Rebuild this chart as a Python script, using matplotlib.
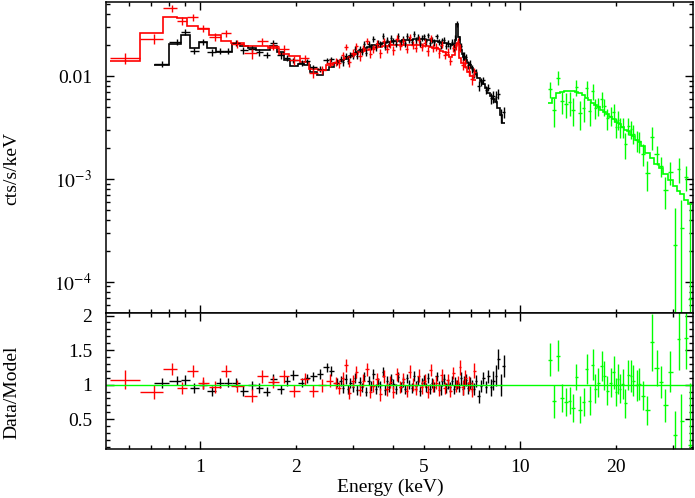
import numpy as np
import matplotlib.pyplot as plt
from matplotlib.ticker import LogLocator, MultipleLocator, FuncFormatter, NullFormatter, FixedLocator

plt.rcParams['font.family'] = ['Liberation Serif', 'DejaVu Serif']
plt.rcParams['mathtext.fontset'] = 'stix'

# ---- black spectrum (bin centres keV, model cts/s/keV, data/model, ratio error)
black_e = [0.759, 0.846, 0.898, 0.960, 1.022, 1.088, 1.155, 1.226, 1.296, 1.365,
           1.450, 1.532, 1.616, 1.694, 1.791, 1.869, 1.956, 2.077, 2.155, 2.259,
           2.371, 2.488, 2.560, 2.670,
           2.75, 2.80, 2.85, 2.90, 2.95, 3.00, 3.05, 3.10, 3.15, 3.20,
           3.25, 3.30, 3.36, 3.42, 3.48, 3.54, 3.60, 3.66, 3.72, 3.78,
           3.84, 3.90, 3.96, 4.02, 4.09, 4.16, 4.23, 4.30, 4.37, 4.44,
           4.51, 4.58, 4.65, 4.72, 4.79, 4.86, 4.93, 5.00, 5.08, 5.16,
           5.24, 5.32, 5.40, 5.48, 5.56, 5.64, 5.72, 5.80, 5.88, 5.96,
           6.04, 6.12, 6.20, 6.28, 6.36, 6.44, 6.52, 6.61, 6.70, 6.79,
           6.88, 6.98, 7.08, 7.19, 7.30, 7.42, 7.55, 7.68, 7.82, 7.96,
           8.10, 8.25, 8.40, 8.55, 8.72, 8.90]
black_model = [0.0128, 0.0205, 0.0254, 0.0186, 0.0216, 0.0187, 0.0172, 0.0171, 0.0205, 0.0196,
               0.0187, 0.0179, 0.0179, 0.0196, 0.0171, 0.0143, 0.0125, 0.0131, 0.0128, 0.0109,
               0.0102, 0.0114, 0.0122, 0.0134,
               0.0140, 0.0143, 0.0147, 0.0152, 0.0158, 0.0163, 0.0168, 0.0172, 0.0176, 0.0180,
               0.0184, 0.0188, 0.0193, 0.0197, 0.0200, 0.0203, 0.0205, 0.0207, 0.0209, 0.0211,
               0.0213, 0.0215, 0.0217, 0.0218, 0.0219, 0.0221, 0.0222, 0.0223, 0.0224, 0.0225,
               0.0226, 0.0227, 0.0228, 0.0228, 0.0229, 0.0229, 0.0229, 0.0228, 0.0227, 0.0226,
               0.0224, 0.0222, 0.0220, 0.0218, 0.0216, 0.0214, 0.0212, 0.0210, 0.0208, 0.0206,
               0.0204, 0.0202, 0.0205, 0.0225, 0.0320, 0.0240, 0.0180, 0.0166, 0.0152, 0.0143,
               0.0135, 0.0128, 0.0120, 0.0112, 0.0104, 0.0097, 0.0090, 0.0083, 0.0076, 0.0069,
               0.0064, 0.0060, 0.0056, 0.0049, 0.0042, 0.0035]
black_ratio = [1.02, 1.06, 1.07, 0.95, 1.00, 0.91, 1.02, 1.03, 1.03, 0.91,
               0.99, 0.95, 0.90, 1.08, 0.93, 1.05, 1.14, 1.03, 1.09, 1.12,
               1.15, 1.25, 1.20, 1.03,
               1.05, 0.95, 1.08, 0.93, 1.02, 0.97, 1.10, 0.92, 1.04, 0.96,
               1.12, 0.90, 1.06, 0.98, 1.15, 0.94, 1.03, 0.99, 1.18, 0.92,
               1.05, 0.96, 1.08, 1.01, 0.94, 1.11, 0.97, 1.04, 0.93, 1.09,
               1.00, 0.95, 1.13, 0.98, 1.06, 0.91, 1.03, 1.07, 0.96, 1.10,
               0.94, 1.02, 0.97, 1.12, 0.99, 0.92, 1.05, 1.08, 0.95, 1.01,
               0.97, 1.06, 0.93, 1.04, 1.00, 0.96, 1.09, 0.94, 1.03, 1.07,
               0.95, 1.02, 0.98, 0.94, 1.05, 0.83, 0.98, 1.10, 0.97, 1.12,
               0.96, 1.06, 1.13, 1.37, 0.99, 1.27]
black_err = [0.07] * 24 + [0.07] * 56 + [0.09] * 14 + [0.12, 0.14, 0.15, 0.15, 0.16, 0.16]

# ---- red spectrum
red_e = [0.583, 0.720, 0.816, 0.877, 0.949, 1.024, 1.114, 1.206, 1.302, 1.450,
         1.566, 1.694, 1.834, 1.971, 2.128, 2.259, 2.400, 2.550,
         2.65, 2.72, 2.79, 2.86, 2.93, 3.00, 3.08, 3.16, 3.24, 3.32,
         3.40, 3.48, 3.57, 3.66, 3.75, 3.84, 3.93, 4.02, 4.12, 4.22,
         4.32, 4.42, 4.52, 4.62, 4.72, 4.82, 4.92, 5.03, 5.14, 5.25,
         5.36, 5.47, 5.58, 5.70, 5.82, 5.94, 6.06, 6.18, 6.30, 6.40,
         6.50, 6.62, 6.75, 6.90, 7.05, 7.20]
red_model = [0.0140, 0.0260, 0.0372, 0.0365, 0.0310, 0.0286, 0.0250, 0.0218, 0.0210, 0.0198,
             0.0195, 0.0188, 0.0165, 0.0158, 0.0138, 0.0118, 0.0116, 0.0127,
             0.0135, 0.0140, 0.0145, 0.0150, 0.0155, 0.0160, 0.0166, 0.0171, 0.0176, 0.0180,
             0.0184, 0.0188, 0.0191, 0.0194, 0.0196, 0.0198, 0.0199, 0.0200, 0.0201, 0.0202,
             0.0202, 0.0203, 0.0203, 0.0203, 0.0202, 0.0201, 0.0200, 0.0198, 0.0196, 0.0193,
             0.0190, 0.0186, 0.0182, 0.0177, 0.0170, 0.0162, 0.0155, 0.0160, 0.0200, 0.0210,
             0.0150, 0.0135, 0.0122, 0.0110, 0.0100, 0.0091]
red_ratio = [1.07, 0.89, 1.23, 0.95, 1.20, 1.02, 0.97, 1.20, 0.98, 0.84,
             1.12, 1.04, 1.12, 0.91, 1.08, 0.91, 0.99, 1.06,
             1.02, 0.95, 1.10, 1.28, 0.88, 1.05, 1.18, 0.92, 1.06, 1.22,
             0.90, 0.98, 1.08, 0.86, 1.12, 0.93, 1.04, 0.89, 1.15, 0.97,
             1.08, 0.91, 1.19, 1.00, 0.94, 1.13, 0.96, 1.06, 0.90, 1.21,
             0.99, 1.03, 0.92, 1.14, 0.95, 1.07, 0.91, 1.17, 0.98, 1.04,
             1.25, 0.96, 1.10, 1.02, 0.93, 1.20]
red_err = [0.14, 0.10] + [0.09] * 16 + [0.09] * 40 + [0.11] * 6

# ---- green spectrum (hard X-ray)
green_e = [12.41, 12.74, 13.12, 13.5, 13.9, 14.3, 14.6, 15.0, 15.4, 15.8,
           16.2, 16.5, 16.9, 17.2, 17.5, 18.0, 18.3, 18.7, 19.2, 19.6,
           19.9, 20.2, 20.5, 20.9, 21.3, 21.8, 22.2, 22.6, 23.2, 23.6,
           24.2, 25.0, 25.9, 26.7, 27.5, 28.4, 29.4, 30.5, 31.4, 31.9,
           33.0, 33.9]
green_model = [0.0055, 0.0062, 0.0068, 0.0070, 0.0072, 0.0072, 0.0071, 0.0070, 0.0068, 0.0065,
               0.0062, 0.0059, 0.0055, 0.0052, 0.0050, 0.0047, 0.0045, 0.0043, 0.0040, 0.0038,
               0.0036, 0.0035, 0.0034, 0.0032, 0.0030, 0.0029, 0.0027, 0.0026, 0.0024, 0.0023,
               0.0021, 0.0018, 0.0016, 0.0014, 0.00128, 0.00112, 0.00098, 0.00085, 0.00076, 0.00071,
               0.00063, 0.00057]
green_ratio = [1.36, 0.76, 1.42, 0.81, 0.75, 0.77, 0.66, 1.11, 0.64, 0.75,
               1.23, 0.77, 1.29, 0.94, 1.03, 1.27, 1.13, 0.91, 1.03, 1.18,
               0.89, 1.08, 0.94, 1.01, 0.73, 1.14, 1.13, 1.06, 0.99, 1.01,
               0.84, 0.63, 1.61, 1.24, 1.04, 0.70, 1.19, 0.27, 1.66, 0.47,
               1.67, 0.12]
green_err = [0.24, 0.24, 0.22, 0.20, 0.20, 0.20, 0.20, 0.19, 0.20, 0.20,
             0.22, 0.21, 0.22, 0.21, 0.21, 0.22, 0.21, 0.21, 0.21, 0.24,
             0.20, 0.22, 0.21, 0.22, 0.21, 0.22, 0.23, 0.22, 0.22, 0.23,
             0.21, 0.21, 0.41, 0.26, 0.23, 0.24, 0.30, 0.35, 0.45, 0.40,
             0.45, 0.90]


def bin_edges(e):
    e = np.asarray(e)
    mid = np.sqrt(e[:-1] * e[1:])
    return np.concatenate([[e[0] ** 2 / mid[0]], mid, [e[-1] ** 2 / mid[-1]]])


fig = plt.figure(figsize=(6.95, 4.98), dpi=100)
ax1 = fig.add_axes([0.1525, 0.372, 0.8446, 0.6246])
ax2 = fig.add_axes([0.1525, 0.0978, 0.8446, 0.2742], sharex=ax1)

sets = [(black_e, black_model, black_ratio, black_err, '#000000'),
        (red_e, red_model, red_ratio, red_err, '#ff0000'),
        (green_e, green_model, green_ratio, green_err, '#00ff00')]

for en, mod, rat, rerr, col in sets:
    en = np.array(en)
    mod = np.array(mod)
    rat = np.array(rat)
    rerr = np.array(rerr)
    ed = bin_edges(en)
    xerr = [en - ed[:-1], ed[1:] - en]
    ax1.errorbar(en, mod * rat, xerr=xerr, yerr=mod * rerr, fmt='none',
                 ecolor=col, elinewidth=1.0, capsize=0)
    ax1.stairs(mod, ed, baseline=None, color=col, lw=1.2)
    ax2.errorbar(en, rat, xerr=xerr, yerr=rerr, fmt='none',
                 ecolor=col, elinewidth=1.0, capsize=0)

ax2.axhline(1.0, color='#00ff00', lw=1.0)

ax1.set_xscale('log')
ax1.set_yscale('log')
ax1.set_xlim(0.508, 34.7)
ax1.set_ylim(5e-5, 0.053)
ax2.set_ylim(0.065, 2.04)

ax1.xaxis.set_major_locator(LogLocator(base=10))
ax1.xaxis.set_minor_locator(LogLocator(base=10, subs=np.arange(2, 10)))
ax1.xaxis.set_major_formatter(FuncFormatter(lambda v, p: '%g' % v))
ax1.xaxis.set_minor_formatter(FuncFormatter(lambda v, p: '%g' % v if round(v, 3) in (2, 5, 20) else ''))

ax1.yaxis.set_major_locator(FixedLocator([1e-4, 1e-3, 1e-2]))
ax1.yaxis.set_minor_locator(LogLocator(base=10, subs=np.arange(2, 10)))
ax1.yaxis.set_major_formatter(FuncFormatter(
    lambda v, p: {-4: r'$10^{-4}$', -3: r'$10^{-3}$', -2: '0.01'}.get(int(round(np.log10(v))), '')))
ax1.yaxis.set_minor_formatter(NullFormatter())

ax2.yaxis.set_major_locator(MultipleLocator(0.5))
ax2.yaxis.set_minor_locator(MultipleLocator(0.1))
ax2.yaxis.set_major_formatter(FuncFormatter(lambda v, p: '%g' % v))

for ax in (ax1, ax2):
    ax.tick_params(which='both', direction='in', top=True, right=True, width=1.0,
                   labelsize=14, colors='black')
    ax.tick_params(which='major', length=5.8)
    ax.tick_params(which='minor', length=2.9)
    ax.tick_params(axis='y', which='both', pad=10)
    ax.tick_params(axis='x', which='both', pad=7)
    for s in ax.spines.values():
        s.set_linewidth(1.1)

ax1.tick_params(axis='x', which='both', labelbottom=False)

fig.text(12 / 695, 1 - 168 / 498, 'cts/s/keV', rotation=90, ha='center', va='center', fontsize=14)
fig.text(12 / 695, 1 - 392 / 498, 'Data/Model', rotation=90, ha='center', va='center', fontsize=14)
fig.text(390 / 695, 1 - 487 / 498, 'Energy (keV)', ha='center', va='center', fontsize=14)

fig.savefig('out.png', dpi=100)
